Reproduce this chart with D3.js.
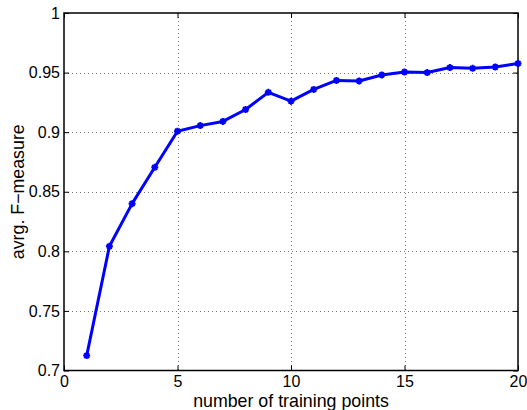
<!DOCTYPE html>
<html><head><meta charset="utf-8">
<script src="https://cdn.jsdelivr.net/npm/d3@7"></script>
<style>
html,body{margin:0;padding:0;background:#fff;}
svg text{font-family:"Liberation Sans",Arial,Helvetica,sans-serif;}
</style></head>
<body><svg id="c" width="527" height="410"></svg>
<script>
const xValues = [1,2,3,4,5,6,7,8,9,10,11,12,13,14,15,16,17,18,19,20];
const fMeasure = [0.7125,0.8042,0.8400,0.8705,0.9008,0.9055,0.9090,0.9190,0.9334,0.9260,0.9359,0.9434,0.9430,0.9480,0.9505,0.9500,0.9542,0.9536,0.9547,0.9576];
const xTicks = [0,5,10,15,20];
const yTicks = [0.7,0.75,0.8,0.85,0.9,0.95,1];
const yTickLabels = ["0.7","0.75","0.8","0.85","0.9","0.95","1"];
const xLabel = "number of training points";
const yLabel = "avrg. F\u2212measure";

const svg = d3.select("#c");
const L=64, R=518, T=13, B=370.5;
const x = d3.scaleLinear().domain([0,20]).range([L,R]);
const y = d3.scaleLinear().domain([0.7,1]).range([B,T]);

const g = svg.append("g");
g.selectAll(".gx").data(xTicks.slice(1,-1)).enter().append("line")
  .attr("x1",d=>Math.round(x(d))+0.5).attr("x2",d=>Math.round(x(d))+0.5)
  .attr("y1",T).attr("y2",B)
  .attr("stroke","#777").attr("stroke-width",1).attr("stroke-dasharray","1,3");
g.selectAll(".gy").data(yTicks.slice(1,-1)).enter().append("line")
  .attr("y1",d=>Math.round(y(d))+0.5).attr("y2",d=>Math.round(y(d))+0.5)
  .attr("x1",L).attr("x2",R)
  .attr("stroke","#777").attr("stroke-width",1).attr("stroke-dasharray","1,3");

const xAxis = d3.axisBottom(x).tickValues(xTicks).tickSize(-5).tickPadding(5).tickFormat(d3.format("d"));
const xAxisTop = d3.axisTop(x).tickValues(xTicks).tickSize(-5).tickFormat("");
const yAxis = d3.axisLeft(y).tickValues(yTicks).tickSize(-5).tickPadding(4).tickFormat((d,i)=>yTickLabels[i]);
const yAxisRight = d3.axisRight(y).tickValues(yTicks).tickSize(-5).tickFormat("");

function style(sel){
  sel.attr("font-size",null).attr("font-family",null);
  sel.selectAll(".domain").remove();
  sel.selectAll(".tick line").attr("stroke","#000").attr("stroke-width",1);
  sel.selectAll("text").attr("fill","#000").style("font-size","16px")
    .style("font-family","'Liberation Sans',Arial,sans-serif");
}
svg.append("g").attr("transform",`translate(0,${B})`).call(xAxis).call(style);
svg.append("g").attr("transform",`translate(0,${T})`).call(xAxisTop).call(style);
svg.append("g").attr("transform",`translate(${L},0)`).call(yAxis).call(style);
svg.append("g").attr("transform",`translate(${R},0)`).call(yAxisRight).call(style);

svg.append("rect").attr("x",L).attr("y",T).attr("width",R-L).attr("height",B-T)
  .attr("fill","none").attr("stroke","#000").attr("stroke-width",1.5);

const data = xValues.map((v,i)=>[v,fMeasure[i]]);
svg.append("path").datum(data)
  .attr("d", d3.line().x(d=>x(d[0])).y(d=>y(d[1])))
  .attr("fill","none").attr("stroke","#0000ff").attr("stroke-width",3).attr("stroke-linejoin","round");

const s=3.5;
const star = `M${-s},0L${s},0M0,${-s}L0,${s}M${-s*0.7},${-s*0.7}L${s*0.7},${s*0.7}M${-s*0.7},${s*0.7}L${s*0.7},${-s*0.7}`;
svg.selectAll(".m").data(data).enter().append("path")
  .attr("transform",d=>`translate(${x(d[0])},${y(d[1])})`)
  .attr("d",star).attr("stroke","#0000ff").attr("stroke-width",2).attr("fill","none");

svg.append("text").attr("x",(L+R)/2).attr("y",406.5).attr("text-anchor","middle")
  .style("font-size","17.8px").text(xLabel);
svg.append("text").attr("transform",`translate(24,${(T+B)/2}) rotate(-90)`)
  .attr("text-anchor","middle").style("font-size","17.8px").text(yLabel);
</script></body></html>
